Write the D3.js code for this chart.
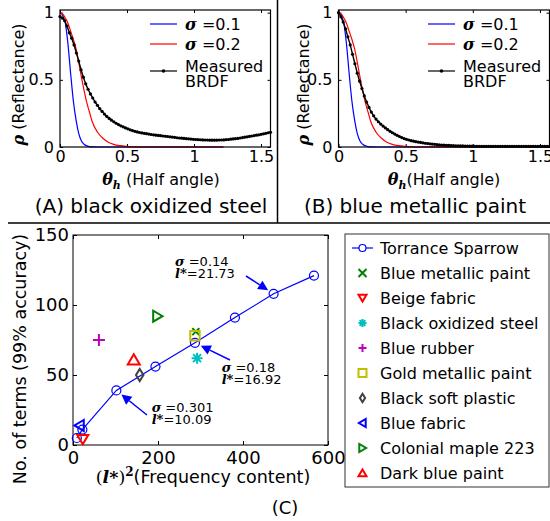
<!DOCTYPE html>
<html>
<head>
<meta charset="utf-8">
<script src="https://cdn.jsdelivr.net/npm/d3@7"></script>
<style>
  body { margin: 0; background: #fff; }
  svg { display: block; }
  text { font-family: "DejaVu Sans", sans-serif; fill: #000; }
</style>
</head>
<body>
<div id="chart"></div>
<script>
// ---- values ----

// (A) and (B): measured BRDF, one sample per degree of half angle, 0..90 deg
const HALF_ANGLE_STEP_DEG = 1;
const MEASURED_STEEL = [
  0.97, 0.96, 0.94, 0.90, 0.85, 0.81, 0.76, 0.70, 0.64, 0.575,
  0.52, 0.47, 0.43, 0.395, 0.365, 0.335, 0.31, 0.285, 0.265, 0.245,
  0.228, 0.213, 0.20, 0.188, 0.177, 0.167, 0.158, 0.150, 0.142, 0.135,
  0.128, 0.122, 0.117, 0.112, 0.108, 0.105, 0.102, 0.099, 0.096, 0.093,
  0.091, 0.088, 0.086, 0.084, 0.082, 0.080, 0.078, 0.076, 0.074, 0.072,
  0.069, 0.067, 0.066, 0.064, 0.062, 0.061, 0.059, 0.057, 0.056, 0.055,
  0.054, 0.053, 0.052, 0.052, 0.051, 0.051, 0.051, 0.051, 0.052, 0.052,
  0.053, 0.055, 0.056, 0.058, 0.060, 0.062, 0.064, 0.067, 0.070, 0.073,
  0.076, 0.079, 0.082, 0.085, 0.088, 0.091, 0.094, 0.098, 0.102, 0.106,
  0.110
];
const MEASURED_PAINT = [
  1.00, 0.97, 0.93, 0.88, 0.82, 0.76, 0.69, 0.62, 0.55, 0.49,
  0.435, 0.38, 0.335, 0.295, 0.26, 0.232, 0.208, 0.188, 0.171, 0.156,
  0.142, 0.129, 0.117, 0.106, 0.096, 0.087, 0.078, 0.070, 0.063, 0.057,
  0.052, 0.047, 0.043, 0.040, 0.037, 0.034, 0.031, 0.028, 0.026, 0.024,
  0.022, 0.020, 0.018, 0.016, 0.015, 0.014, 0.013, 0.012, 0.011, 0.010,
  0.009, 0.009, 0.008, 0.008, 0.007, 0.007, 0.006, 0.006, 0.005, 0.005,
  0.005, 0.005, 0.005, 0.005, 0.005, 0.005, 0.005, 0.005, 0.005, 0.005,
  0.005, 0.004, 0.004, 0.004, 0.004, 0.004, 0.004, 0.004, 0.004, 0.004,
  0.004, 0.004, 0.004, 0.004, 0.004, 0.004, 0.004, 0.004, 0.004, 0.004,
  0.004
];

// Torrance-Sparrow curves (same in both panels), theta in radians
const MODEL_THETA    = [0, 0.02, 0.04, 0.06, 0.08, 0.10, 0.12, 0.14, 0.16, 0.18, 0.20, 0.22, 0.24, 0.28, 0.32, 0.36, 0.40, 0.45, 0.50, 0.55, 0.60, 1.22];
const MODEL_SIGMA_01 = [1.0, 0.98, 0.92, 0.76, 0.54, 0.34, 0.20, 0.10, 0.045, 0.02, 0.008, 0.003, 0.001, 0, 0, 0, 0, 0, 0, 0, 0, 0];
const MODEL_SIGMA_02 = [1.0, 0.99, 0.96, 0.92, 0.86, 0.80, 0.73, 0.63, 0.52, 0.42, 0.33, 0.26, 0.19, 0.11, 0.065, 0.036, 0.02, 0.01, 0.005, 0.002, 0, 0];
const MODEL_NAMES = ["0.1", "0.2"];

const TOP_X_TICKS = [0, 0.5, 1, 1.5];
const TOP_X_LABELS = ["0", "0.5", "1", "1.5"];
const TOP_Y_TICKS = [0, 0.5, 1];
const TOP_Y_LABELS = ["0", "0.5", "1"];
const CAPTIONS = ["(A) black oxidized steel", "(B) blue metallic paint"];

// (C): number of terms vs (l*)^2
const TS_L2    = [9, 22, 102, 194, 287, 381, 472, 567];
const TS_TERMS = [5, 11, 39, 56, 73, 91, 108, 121];

const MATERIALS = ["Blue metallic paint", "Beige fabric", "Black oxidized steel", "Blue rubber",
  "Gold metallic paint", "Black soft plastic", "Blue fabric", "Colonial maple 223", "Dark blue paint"];
const MAT_L2    = [289, 23, 292, 61, 287, 157, 15, 199, 143];
const MAT_TERMS = [81, 4, 62, 75, 78, 50, 14, 92, 61];

const C_X_TICKS = [0, 200, 400, 600];
const C_Y_TICKS = [0, 50, 100, 150];

const CALLOUT_POINT = [6, 4, 2];              // index into TS_* arrays
const CALLOUT_SIGMA = ["0.14", "0.18", "0.301"];
const CALLOUT_LSTAR = ["21.73", "16.92", "10.09"];

// ---- styles / layout ----
const BLUE = "#0000ff", RED = "#ff0000";
const MAT_STYLE = [
  {shape: "x", color: "#008000"},
  {shape: "v", color: RED},
  {shape: "*", color: "#00bfbf"},
  {shape: "+", color: "#bf00bf"},
  {shape: "s", color: "#bfbf00"},
  {shape: "d", color: "#404040"},
  {shape: "<", color: BLUE},
  {shape: ">", color: "#008000"},
  {shape: "^", color: RED}
];
const SERIF = '"DejaVu Serif", serif';

const svg = d3.select("#chart").append("svg")
  .attr("width", 550)
  .attr("height", 521);

function styleAxis(g, size) {
  g.select(".domain").remove();
  g.attr("font-family", null).attr("font-size", null).attr("color", "#000");
  g.selectAll("text").style("font-size", size + "px");
}

// marker outline centred on 0,0 ; s = half size
function markerPath(shape, s) {
  switch (shape) {
    case "x": return `M${-s},${-s}L${s},${s}M${-s},${s}L${s},${-s}`;
    case "+": return `M${-s},0L${s},0M0,${-s}L0,${s}`;
    case "*": {
      const k = s * 0.72;
      return `M${-s},0L${s},0M0,${-s}L0,${s}M${-k},${-k}L${k},${k}M${-k},${k}L${k},${-k}`;
    }
    case "s": return `M${-s},${-s}H${s}V${s}H${-s}Z`;
    case "d": return `M0,${-s * 1.2}L${s * 0.75},0L0,${s * 1.2}L${-s * 0.75},0Z`;
    case "v": return `M${-s},${-s * 0.8}L${s},${-s * 0.8}L0,${s * 0.9}Z`;
    case "^": return `M${-s},${s * 0.8}L${s},${s * 0.8}L0,${-s * 0.9}Z`;
    case "<": return `M${s * 0.8},${-s}L${s * 0.8},${s}L${-s * 0.9},0Z`;
    case ">": return `M${-s * 0.8},${-s}L${-s * 0.8},${s}L${s * 0.9},0Z`;
  }
}

// ================= top panels =================
const PANEL_TOP = 10, PANEL_BOTTOM = 147;
const PANEL_LAYOUT = [
  {left: 60, right: 270.5, yLabelX: 24, xLabelX: 161, captionX: 151, legendX: 150, gap: " "},
  {left: 338.5, right: 549.5, yLabelX: 309, xLabelX: 444, captionX: 415, legendX: 428, gap: ""}
];

[MEASURED_STEEL, MEASURED_PAINT].forEach((measured, i) => {
  const L = PANEL_LAYOUT[i];
  const x = d3.scaleLinear().domain([0, Math.PI / 2]).range([L.left, L.right]);
  const y = d3.scaleLinear().domain([0, 1.02]).range([PANEL_BOTTOM, PANEL_TOP]);
  const g = svg.append("g");

  g.append("g").attr("transform", `translate(0,${PANEL_BOTTOM})`)
    .call(d3.axisBottom(x).tickValues(TOP_X_TICKS).tickFormat((d, k) => TOP_X_LABELS[k])
      .tickSizeInner(-3).tickSizeOuter(0).tickPadding(4))
    .call(styleAxis, 16);
  g.append("g").attr("transform", `translate(0,${PANEL_TOP})`)
    .call(d3.axisTop(x).tickValues(TOP_X_TICKS).tickFormat("").tickSizeInner(-3).tickSizeOuter(0))
    .call(styleAxis, 16);
  g.append("g").attr("transform", `translate(${L.left},0)`)
    .call(d3.axisLeft(y).tickValues(TOP_Y_TICKS).tickFormat((d, k) => TOP_Y_LABELS[k])
      .tickSizeInner(-3).tickSizeOuter(0).tickPadding(6))
    .call(styleAxis, 16);
  g.append("g").attr("transform", `translate(${L.right},0)`)
    .call(d3.axisRight(y).tickValues(TOP_Y_TICKS).tickFormat("").tickSizeInner(-3).tickSizeOuter(0))
    .call(styleAxis, 16);

  const model = d3.line()
    .x((d, k) => x(MODEL_THETA[k]))
    .y(d => y(d))
    .curve(d3.curveMonotoneX);
  g.append("path").attr("d", model(MODEL_SIGMA_01))
    .attr("fill", "none").attr("stroke", BLUE).attr("stroke-width", 1.2);
  g.append("path").attr("d", model(MODEL_SIGMA_02))
    .attr("fill", "none").attr("stroke", RED).attr("stroke-width", 1.2);

  const deg = k => k * HALF_ANGLE_STEP_DEG * Math.PI / 180;
  g.append("path")
    .attr("d", d3.line().x((d, k) => x(deg(k))).y(d => y(d))(measured))
    .attr("fill", "none").attr("stroke", "#000").attr("stroke-width", 1.4);
  g.selectAll(".dot").data(measured).enter()
    .append("circle")
      .attr("cx", (d, k) => x(deg(k)))
      .attr("cy", d => y(d))
      .attr("r", 1.6)
      .attr("fill", "#000");

  g.append("rect")
    .attr("x", L.left).attr("y", PANEL_TOP)
    .attr("width", L.right - L.left).attr("height", PANEL_BOTTOM - PANEL_TOP)
    .attr("fill", "none").attr("stroke", "#000").attr("stroke-width", 1.2);

  // legend
  [BLUE, RED].forEach((c, k) => {
    const ly = 24 + k * 20;
    g.append("line").attr("x1", L.legendX).attr("x2", L.legendX + 27)
      .attr("y1", ly).attr("y2", ly).attr("stroke", c).attr("stroke-width", 1.2);
    const t = g.append("text").attr("x", L.legendX + 35).attr("y", ly + 6).style("font-size", "16px");
    t.append("tspan").style("font-family", SERIF).style("font-weight", "bold").style("font-style", "italic").text("σ");
    t.append("tspan").text(" =" + MODEL_NAMES[k]);
  });
  g.append("line").attr("x1", L.legendX).attr("x2", L.legendX + 27)
    .attr("y1", 71).attr("y2", 71).attr("stroke", "#000").attr("stroke-width", 1.2);
  g.append("circle").attr("cx", L.legendX + 13.5).attr("cy", 71).attr("r", 1.8).attr("fill", "#000");
  g.append("text").attr("x", L.legendX + 35).attr("y", 71.5).style("font-size", "16px").text("Measured");
  g.append("text").attr("x", L.legendX + 35).attr("y", 86.5).style("font-size", "16px").text("BRDF");

  // axis titles
  const yl = g.append("text")
    .attr("transform", `translate(${L.yLabelX},${(PANEL_TOP + PANEL_BOTTOM) / 2 + 6}) rotate(-90)`)
    .attr("text-anchor", "middle").style("font-size", "16px");
  yl.append("tspan").style("font-family", SERIF).style("font-weight", "bold").style("font-style", "italic").text("ρ");
  yl.append("tspan").text(" (Reflectance)");

  const xl = g.append("text").attr("x", L.xLabelX).attr("y", 185)
    .attr("text-anchor", "middle").style("font-size", "16px");
  xl.append("tspan").style("font-family", SERIF).style("font-weight", "bold").style("font-style", "italic").text("θ");
  xl.append("tspan").attr("dy", 4).style("font-family", SERIF).style("font-weight", "bold")
    .style("font-style", "italic").style("font-size", "11px").text("h");
  xl.append("tspan").attr("dy", -4).text(L.gap + "(Half angle)");

  g.append("text").attr("x", L.captionX).attr("y", 213)
    .attr("text-anchor", "middle").style("font-size", "20px").text(CAPTIONS[i]);
});

// separators between the panels
svg.append("line").attr("x1", 8).attr("x2", 550).attr("y1", 223).attr("y2", 223)
  .attr("stroke", "#000").attr("stroke-width", 1.5);
svg.append("line").attr("x1", 277.5).attr("x2", 277.5).attr("y1", 0).attr("y2", 223)
  .attr("stroke", "#000").attr("stroke-width", 1.5);

// ================= bottom panel (C) =================
const C = {left: 73, right: 328, top: 235, bottom: 445};
const xC = d3.scaleLinear().domain([0, 600]).range([C.left, C.right]);
const yC = d3.scaleLinear().domain([0, 150]).range([C.bottom, C.top]);
const gC = svg.append("g");

gC.append("g").attr("transform", `translate(0,${C.bottom})`)
  .call(d3.axisBottom(xC).tickValues(C_X_TICKS).tickFormat(d3.format("d"))
    .tickSizeInner(-4).tickSizeOuter(0).tickPadding(6))
  .call(styleAxis, 18);
gC.append("g").attr("transform", `translate(0,${C.top})`)
  .call(d3.axisTop(xC).tickValues(C_X_TICKS).tickFormat("").tickSizeInner(-4).tickSizeOuter(0))
  .call(styleAxis, 18);
gC.append("g").attr("transform", `translate(${C.left},0)`)
  .call(d3.axisLeft(yC).tickValues(C_Y_TICKS).tickFormat(d3.format("d"))
    .tickSizeInner(-4).tickSizeOuter(0).tickPadding(4))
  .call(styleAxis, 18);
gC.append("g").attr("transform", `translate(${C.right},0)`)
  .call(d3.axisRight(yC).tickValues(C_Y_TICKS).tickFormat("").tickSizeInner(-4).tickSizeOuter(0))
  .call(styleAxis, 18);

gC.append("rect")
  .attr("x", C.left).attr("y", C.top)
  .attr("width", C.right - C.left).attr("height", C.bottom - C.top)
  .attr("fill", "none").attr("stroke", "#000").attr("stroke-width", 1);

// Torrance Sparrow line + circles
gC.append("path")
  .attr("d", d3.line().x((d, k) => xC(TS_L2[k])).y(d => yC(d))(TS_TERMS))
  .attr("fill", "none").attr("stroke", BLUE).attr("stroke-width", 1.2);
gC.selectAll(".ts").data(TS_TERMS).enter()
  .append("circle")
    .attr("cx", (d, k) => xC(TS_L2[k]))
    .attr("cy", d => yC(d))
    .attr("r", 4.5)
    .attr("fill", "none").attr("stroke", BLUE).attr("stroke-width", 1.2);

// materials
const MARK_SIZE = {x: 3.5, v: 5.5, "*": 5.5, "+": 6, s: 4.7, d: 5, "<": 5.5, ">": 5.5, "^": 6};
gC.selectAll(".mat").data(MAT_TERMS).enter()
  .append("path")
    .attr("transform", (d, k) => `translate(${xC(MAT_L2[k])},${yC(d)})`)
    .attr("d", (d, k) => markerPath(MAT_STYLE[k].shape, MARK_SIZE[MAT_STYLE[k].shape]))
    .attr("fill", "none")
    .attr("stroke", (d, k) => MAT_STYLE[k].color)
    .attr("stroke-width", 2);

// callouts
const CALLOUT_LAYOUT = [   // pixel offsets from the marked point: arrow tail, text origin
  {tail: [-27.6, -17.8], text: [-98.6, -28.1]},
  {tail: [35, 17.2], text: [26.7, 28.9]},
  {tail: [30.6, 24.6], text: [35.3, 21.3]}
];
CALLOUT_POINT.forEach((idx, k) => {
  const px = xC(TS_L2[idx]), py = yC(TS_TERMS[idx]);
  const lay = CALLOUT_LAYOUT[k];
  const len = Math.hypot(lay.tail[0], lay.tail[1]);
  const ux = lay.tail[0] / len, uy = lay.tail[1] / len;
  const tip = [px + ux * 6.5, py + uy * 6.5];
  const tail = [px + lay.tail[0], py + lay.tail[1]];
  const base = [tip[0] + ux * 10, tip[1] + uy * 10];
  gC.append("line")
    .attr("x1", tail[0]).attr("y1", tail[1]).attr("x2", base[0]).attr("y2", base[1])
    .attr("stroke", BLUE).attr("stroke-width", 1.5);
  gC.append("path")
    .attr("d", `M${tip[0]},${tip[1]}L${base[0] - uy * 5},${base[1] + ux * 5}L${base[0] + uy * 5},${base[1] - ux * 5}Z`)
    .attr("fill", BLUE);

  const tx = px + lay.text[0], ty = py + lay.text[1];
  const t1 = gC.append("text").attr("x", tx).attr("y", ty).style("font-size", "13px");
  t1.append("tspan").style("font-family", SERIF).style("font-weight", "bold").style("font-style", "italic").text("σ");
  t1.append("tspan").text(" =" + CALLOUT_SIGMA[k]);
  const t2 = gC.append("text").attr("x", tx).attr("y", ty + 12).style("font-size", "13px");
  t2.append("tspan").style("font-family", SERIF).style("font-weight", "bold").style("font-style", "italic").text("l*");
  t2.append("tspan").text("=" + CALLOUT_LSTAR[k]);
});

// axis titles
const cyl = gC.append("text")
  .attr("transform", `translate(26,359) rotate(-90)`)
  .attr("text-anchor", "middle").style("font-size", "17.5px")
  .text("No. of terms (99% accuracy)");

const cxl = gC.append("text").attr("x", 203).attr("y", 483)
  .attr("text-anchor", "middle").style("font-size", "17.5px");
cxl.append("tspan").style("font-family", SERIF).text("(");
cxl.append("tspan").style("font-family", SERIF).style("font-weight", "bold").style("font-style", "italic").text("l*");
cxl.append("tspan").style("font-family", SERIF).text(")");
cxl.append("tspan").attr("dy", -7).style("font-family", SERIF).style("font-weight", "bold").style("font-size", "12px").text("2");
cxl.append("tspan").attr("dy", 7).text("(Frequency content)");

gC.append("text").attr("x", 285).attr("y", 514)
  .attr("text-anchor", "middle").style("font-size", "18px").text("(C)");

// legend
const LEG = {x: 345, y: 234, w: 204, h: 253, row: 25, first: 248, markX: 362.5, textX: 380};
const gL = svg.append("g");
gL.append("rect").attr("x", LEG.x).attr("y", LEG.y).attr("width", LEG.w).attr("height", LEG.h)
  .attr("fill", "#fff").attr("stroke", "#333").attr("stroke-width", 1);
gL.append("line").attr("x1", LEG.markX - 10.5).attr("x2", LEG.markX + 10.5)
  .attr("y1", LEG.first).attr("y2", LEG.first).attr("stroke", BLUE).attr("stroke-width", 1.2);
gL.append("circle").attr("cx", LEG.markX).attr("cy", LEG.first).attr("r", 3.5)
  .attr("fill", "#fff").attr("stroke", BLUE).attr("stroke-width", 1.2);
gL.append("text").attr("x", LEG.textX).attr("y", LEG.first + 6).style("font-size", "16px").text("Torrance Sparrow");
MATERIALS.forEach((name, k) => {
  const ly = LEG.first + (k + 1) * LEG.row;
  gL.append("path")
    .attr("transform", `translate(${LEG.markX},${ly})`)
    .attr("d", markerPath(MAT_STYLE[k].shape, MAT_STYLE[k].shape === "d" ? 3.5 : 4))
    .attr("fill", "none").attr("stroke", MAT_STYLE[k].color).attr("stroke-width", 2);
  gL.append("text").attr("x", LEG.textX).attr("y", ly + 6).style("font-size", "16px").text(name);
});
</script>
</body>
</html>
